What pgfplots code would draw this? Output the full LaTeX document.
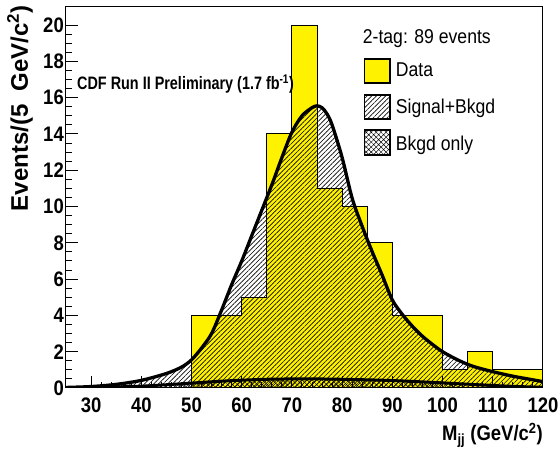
\documentclass[border=0pt]{standalone}
\usepackage{fontspec}
\setmainfont{Liberation Sans}
\newfontfamily\tickfam[FakeStretch=0.88]{Liberation Sans}
\newfontfamily\titlefam[FakeStretch=0.8]{Liberation Sans}
\newfontfamily\legfam[FakeStretch=0.88]{Liberation Sans}
\usepackage{pgfplots}
\usepackage{pgfplotstable}
\pgfplotsset{compat=1.18}
\usetikzlibrary{patterns.meta}

% signal + background fit
\pgfplotstableread{
x y
25 0.03
30 0.08
35 0.2
40 0.42
45 0.8
48 1.15
50 1.55
52 2.2
54 3.0
56 4.3
58 5.7
60 7.0
62 8.4
64 9.8
66 11.2
68 12.7
70 14.1
72 15.0
74 15.45
75 15.55
76 15.45
77 15.1
78 14.5
80 12.7
82 10.45
84 8.9
86 7.5
88 6.2
90 4.85
92 4.05
94 3.4
96 2.85
98 2.4
100 2.0
103 1.55
106 1.2
110 0.9
114 0.65
117 0.5
120 0.35
}\sigbkg

% background only
\pgfplotstableread{
x y
25 0.01
30 0.03
35 0.06
40 0.1
45 0.18
50 0.27
55 0.36
60 0.43
65 0.48
70 0.5
75 0.5
80 0.48
85 0.45
90 0.41
95 0.35
100 0.28
105 0.21
110 0.14
115 0.08
120 0.04
}\bkg

\begin{document}
\begin{tikzpicture}
\begin{axis}[
  at={(0,0)}, anchor=south west,
  width=477pt, height=381pt, scale only axis,
  xmin=25, xmax=120, ymin=0, ymax=21,
  xtick={30,40,...,120}, ytick={0,2,...,20},
  minor x tick num=4, minor y tick num=3,
  tick align=inside, xtick pos=bottom, ytick pos=left,
  major tick length=12pt, minor tick length=6pt,
  tick style={black, line width=1pt},
  axis line style={line width=1pt},
  /pgf/number format/assume math mode=true,
  ticklabel style={font=\tickfam\bfseries\fontsize{21}{25}\selectfont},
  xticklabel style={inner sep=0pt, yshift=-9.5pt},
  yticklabel style={inner sep=0pt, xshift=-2pt},
  xlabel={M\textsubscript{jj} (GeV/c\textsuperscript{2})},
  x label style={at={(axis description cs:1,0)}, anchor=base east, yshift=-53pt, inner sep=0pt,
    font=\tickfam\bfseries\fontsize{21}{25}\selectfont},
  ylabel={Events/(5\ \ GeV/c\textsuperscript{2})},
  y label style={at={(axis description cs:-0.0797,1.005)}, anchor=base east, inner sep=0pt,
    font=\bfseries\fontsize{24}{28}\selectfont},
  axis on top,
]
% data histogram fill
\addplot[const plot, fill=yellow, draw=none] coordinates {
(50,4) (55,4) (60,5) (65,14) (70,20) (75,11) (80,10) (85,8) (90,4) (95,4)
(100,1) (105,2) (110,1) (115,1) (120,1)
} \closedcycle;
% signal+bkgd hatched area
\addplot[draw=none, smooth, pattern={Lines[angle=45,distance=3.3pt,line width=0.6pt]}]
  table {\sigbkg} \closedcycle;
% bkgd crosshatched area
\addplot[draw=none, smooth, pattern={Hatch[angle=45,distance=3.5pt,line width=0.45pt]}]
  table {\bkg} \closedcycle;
% data histogram outline
\addplot[const plot, draw=black, line width=1pt] coordinates {
(50,0) (50,4) (55,4) (60,5) (65,14) (70,20) (75,11) (80,10) (85,8) (90,4) (95,4)
(100,1) (105,2) (110,1) (115,1) (120,1)
};
\addplot[smooth, black, line width=3.3pt] table {\sigbkg};
\addplot[smooth, black, line width=3pt] table {\bkg};
\end{axis}

% title
\node[anchor=base west, inner sep=0pt, font=\titlefam\bfseries\fontsize{18}{22}\selectfont]
  at (11pt,298pt) {CDF Run II Preliminary (1.7 fb\textsuperscript{-1})};

% legend
\begin{scope}[font=\legfam\fontsize{20}{24}\selectfont]
\node[anchor=base west, inner sep=0pt] at (296.7pt,344.7pt) {2-tag: 89 events};
\draw[line width=1.5pt, fill=yellow] (298.3pt,305pt) rectangle (324pt,329pt);
\node[anchor=base west, inner sep=0pt] at (329.7pt,311.3pt) {Data};
\draw[line width=1.5pt, pattern={Lines[angle=45,distance=3.3pt,line width=0.6pt]}]
  (298.3pt,269pt) rectangle (324pt,293pt);
\node[anchor=base west, inner sep=0pt] at (329.7pt,274.7pt) {Signal+Bkgd};
\draw[line width=1.5pt, pattern={Hatch[angle=45,distance=3.5pt,line width=0.45pt]}]
  (298.3pt,233pt) rectangle (324pt,258pt);
\node[anchor=base west, inner sep=0pt] at (329.7pt,237.3pt) {Bkgd only};
\end{scope}

\pgfresetboundingbox
\path[use as bounding box] (-66pt,-61pt) rectangle (492pt,388pt);
\end{tikzpicture}
\end{document}
